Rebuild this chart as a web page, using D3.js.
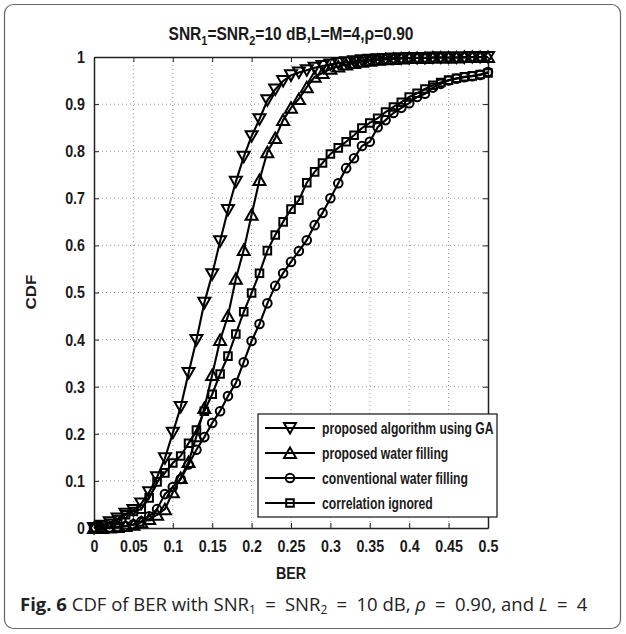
<!DOCTYPE html>
<html>
<head>
<meta charset="utf-8">
<script src="https://cdn.jsdelivr.net/npm/d3@7"></script>
<style>
  body { margin: 0; background: #fff; }
  svg { display: block; }
  text { white-space: pre; }
</style>
</head>
<body>
<svg id="chart" width="626" height="634"></svg>
<script>
// BER grid the CDF was evaluated on
const berValues = [0,0.01,0.02,0.03,0.04,0.05,0.06,0.07,0.08,0.09,0.10,0.11,0.12,0.13,0.14,0.15,0.16,0.17,0.18,0.19,0.20,
  0.21,0.22,0.23,0.24,0.25,0.26,0.27,0.28,0.29,0.30,0.31,0.32,0.33,0.34,0.35,0.36,0.37,0.38,0.39,0.40,
  0.41,0.42,0.43,0.44,0.45,0.46,0.47,0.48,0.49,0.50];

const cdfGA = [0.000,0.005,0.012,0.020,0.030,0.038,0.052,0.076,0.108,0.148,0.202,
  0.257,0.329,0.399,0.478,0.539,0.609,0.675,0.735,0.788,0.832,
  0.868,0.908,0.931,0.949,0.961,0.967,0.972,0.977,0.981,0.984,
  0.987,0.989,0.991,0.993,0.994,0.995,0.996,0.997,0.997,0.998,
  0.998,0.998,0.999,0.999,0.999,0.999,0.999,1.000,1.000,1.000];

const cdfProposedWF = [0.000,0.000,0.001,0.002,0.004,0.007,0.012,0.019,0.028,0.040,0.076,
  0.106,0.140,0.195,0.255,0.325,0.399,0.450,0.529,0.590,0.665,
  0.739,0.798,0.828,0.866,0.892,0.911,0.936,0.958,0.966,0.975,
  0.980,0.984,0.987,0.990,0.992,0.994,0.995,0.996,0.997,0.998,
  0.998,0.998,0.999,0.999,0.999,0.999,1.000,1.000,1.000,1.000];

const cdfConventionalWF = [0.000,0.000,0.001,0.002,0.004,0.008,0.014,0.025,0.040,0.072,0.087,
  0.104,0.135,0.166,0.193,0.223,0.248,0.280,0.308,0.352,0.397,
  0.433,0.477,0.514,0.541,0.565,0.588,0.611,0.643,0.669,0.700,
  0.732,0.764,0.785,0.811,0.820,0.851,0.866,0.881,0.892,0.902,
  0.915,0.922,0.935,0.943,0.950,0.954,0.957,0.959,0.962,0.968];

const cdfIgnored = [0.000,0.005,0.010,0.018,0.028,0.035,0.040,0.064,0.098,0.117,0.138,
  0.153,0.180,0.208,0.248,0.284,0.327,0.365,0.412,0.459,0.499,
  0.541,0.589,0.622,0.650,0.677,0.696,0.733,0.756,0.775,0.794,
  0.807,0.820,0.834,0.849,0.860,0.870,0.883,0.894,0.904,0.915,
  0.923,0.932,0.940,0.946,0.951,0.955,0.958,0.960,0.963,0.966];

const seriesNames = ["proposed algorithm using GA", "proposed water filling",
  "conventional water filling", "correlation ignored"];
const seriesMarkers = ["triDown", "triUp", "circle", "square"];

const xTicks = [0,0.05,0.1,0.15,0.2,0.25,0.3,0.35,0.4,0.45,0.5];
const xTickLabels = ["0","0.05","0.1","0.15","0.2","0.25","0.3","0.35","0.4","0.45","0.5"];
const yTicks = [0,0.1,0.2,0.3,0.4,0.5,0.6,0.7,0.8,0.9,1];
const yTickLabels = ["0","0.1","0.2","0.3","0.4","0.5","0.6","0.7","0.8","0.9","1"];

const series = [cdfGA, cdfProposedWF, cdfConventionalWF, cdfIgnored].map((vals, i) => ({
  name: seriesNames[i],
  marker: seriesMarkers[i],
  points: berValues.map((b, j) => ({ x: b, y: vals[j] }))
}));

const svg = d3.select("#chart");
const font = "'Liberation Sans', Arial, sans-serif";
const plot = { left: 94, right: 488, top: 57, bottom: 528 };
// the original figure was squeezed sideways when placed in the page
const squeeze = 0.84;

// frame round the whole figure
svg.append("rect")
  .attr("x", 4.5).attr("y", 4.5).attr("width", 616).attr("height", 624)
  .attr("rx", 9).attr("fill", "#fff").attr("stroke", "#666").attr("stroke-width", 1.2);

const x = d3.scaleLinear().domain([0, 0.5]).range([plot.left, plot.right]);
const y = d3.scaleLinear().domain([0, 1]).range([plot.bottom, plot.top]);

// dotted grid
const grid = svg.append("g").attr("stroke", "#999").attr("stroke-width", 1).attr("stroke-dasharray", "1,3");
grid.selectAll(".gx").data(xTicks.slice(1, -1)).enter().append("line")
  .attr("x1", d => x(d)).attr("x2", d => x(d)).attr("y1", plot.top).attr("y2", plot.bottom);
grid.selectAll(".gy").data(yTicks.slice(1, -1)).enter().append("line")
  .attr("y1", d => y(d)).attr("y2", d => y(d)).attr("x1", plot.left).attr("x2", plot.right);

// axes, ticks pointing inward on all four sides
const axisStyle = g => {
  g.select(".domain").attr("stroke", "#222").attr("stroke-width", 1.5);
  g.selectAll(".tick line").attr("stroke", "#222").attr("stroke-width", 1);
  g.selectAll("text").attr("font-family", font).attr("font-weight", "bold")
    .attr("font-size", 17).attr("fill", "#1a1a1a")
    .attr("x", function() { return +d3.select(this).attr("x") / squeeze; })
    .attr("transform", `scale(${squeeze},1)`);
};
svg.append("g").attr("transform", `translate(0,${plot.bottom})`)
  .call(d3.axisBottom(x).tickValues(xTicks).tickFormat((d, i) => xTickLabels[i])
    .tickSizeInner(-5).tickSizeOuter(0).tickPadding(12))
  .call(axisStyle);
svg.append("g").attr("transform", `translate(0,${plot.top})`)
  .call(d3.axisTop(x).tickValues(xTicks).tickFormat("").tickSizeInner(-5).tickSizeOuter(0))
  .call(axisStyle);
svg.append("g").attr("transform", `translate(${plot.left},0)`)
  .call(d3.axisLeft(y).tickValues(yTicks).tickFormat((d, i) => yTickLabels[i])
    .tickSizeInner(-5).tickSizeOuter(0).tickPadding(9))
  .call(axisStyle);
svg.append("g").attr("transform", `translate(${plot.right},0)`)
  .call(d3.axisRight(y).tickValues(yTicks).tickFormat("").tickSizeInner(-5).tickSizeOuter(0))
  .call(axisStyle);

// marker shapes
function markerPath(type) {
  const p = d3.path();
  if (type === "triDown") { p.moveTo(-6, -5); p.lineTo(6, -5); p.lineTo(0, 5.5); p.closePath(); }
  else if (type === "triUp") { p.moveTo(-6, 5); p.lineTo(6, 5); p.lineTo(0, -5.5); p.closePath(); }
  else if (type === "circle") { p.arc(0, 0, 4.3, 0, 2 * Math.PI); }
  else { p.rect(-3.8, -3.8, 7.6, 7.6); }
  return p.toString();
}

const line = d3.line().x(d => x(d.x)).y(d => y(d.y));
const curves = svg.append("g");
series.forEach(s => {
  const g = curves.append("g");
  g.append("path").datum(s.points).attr("d", line)
    .attr("fill", "none").attr("stroke", "#000").attr("stroke-width", 2.1);
  g.selectAll("path.m").data(s.points).enter().append("path").attr("class", "m")
    .attr("d", markerPath(s.marker))
    .attr("transform", d => `translate(${x(d.x)},${y(d.y)})`)
    .attr("fill", "none").attr("stroke", "#000").attr("stroke-width", 2);
});

// legend
const legend = svg.append("g").attr("transform", "translate(258,414)");
legend.append("rect").attr("width", 239).attr("height", 103)
  .attr("fill", "#fff").attr("stroke", "#111").attr("stroke-width", 1.2);
series.forEach((s, i) => {
  const row = legend.append("g").attr("transform", `translate(0,${14 + i * 25})`);
  row.append("line").attr("x1", 7).attr("x2", 57).attr("stroke", "#000").attr("stroke-width", 2.1);
  row.append("path").attr("d", markerPath(s.marker)).attr("transform", "translate(32,0)")
    .attr("fill", "none").attr("stroke", "#000").attr("stroke-width", 2);
  row.append("text").attr("transform", `translate(64,0) scale(0.76,1)`).attr("dy", "0.36em")
    .attr("font-family", font).attr("font-weight", "bold").attr("font-size", 16).attr("fill", "#1a1a1a")
    .text(s.name);
});

// title
const title = svg.append("text")
  .attr("transform", `translate(${(plot.left + plot.right) / 2},40) scale(${squeeze},1)`)
  .attr("text-anchor", "middle").attr("font-family", font).attr("font-weight", "bold")
  .attr("font-size", 18.5).attr("fill", "#1a1a1a");
title.append("tspan").text("SNR");
title.append("tspan").attr("dy", 5).attr("font-size", 13).text("1");
title.append("tspan").attr("dy", -5).text("=SNR");
title.append("tspan").attr("dy", 5).attr("font-size", 13).text("2");
title.append("tspan").attr("dy", -5).text("=10 dB,L=M=4,ρ=0.90");

// axis labels
svg.append("text")
  .attr("transform", `translate(${(plot.left + plot.right) / 2},579) scale(${squeeze},1)`)
  .attr("text-anchor", "middle").attr("font-family", font).attr("font-weight", "bold")
  .attr("font-size", 17).attr("fill", "#1a1a1a").text("BER");
svg.append("text").attr("transform", `translate(36,292) rotate(-90) scale(1,${squeeze})`)
  .attr("text-anchor", "middle").attr("font-family", font).attr("font-weight", "bold")
  .attr("font-size", 17).attr("fill", "#1a1a1a").text("CDF");

// caption
const cap = svg.append("text").attr("x", 20).attr("y", 611)
  .attr("font-family", "'Open Sans', 'Noto Sans', sans-serif").attr("font-size", 18.5).attr("fill", "#222");
const eq = "\u2002=\u2002";
cap.append("tspan").attr("font-weight", "bold").text("Fig. 6");
cap.append("tspan").text(" CDF of BER with SNR");
cap.append("tspan").attr("dy", 3).attr("font-size", 12).text("1");
cap.append("tspan").attr("dy", -3).text(eq + "SNR");
cap.append("tspan").attr("dy", 3).attr("font-size", 12).text("2");
cap.append("tspan").attr("dy", -3).text(eq + "10 dB, ");
cap.append("tspan").attr("font-style", "italic").text("ρ");
cap.append("tspan").text(eq + "0.90, and ");
cap.append("tspan").attr("font-style", "italic").text("L");
cap.append("tspan").text(eq + "4");
</script>
</body>
</html>
